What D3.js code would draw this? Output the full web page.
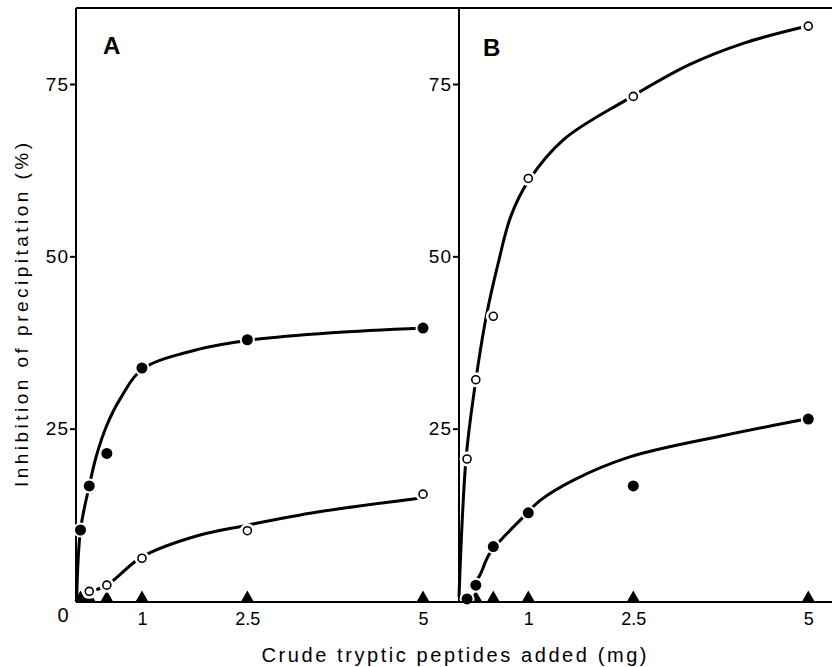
<!DOCTYPE html>
<html>
<head>
<meta charset="utf-8">
<script src="https://cdn.jsdelivr.net/npm/d3@7"></script>
<style>
  body { margin: 0; background: #fff; }
  text { font-family: "Liberation Sans", Arial, sans-serif; fill: #000; }
</style>
</head>
<body>
<div id="chart"></div>
<script>
// doses (mg) and measured inhibition (%)
var dosesA_filled = [0.125, 0.25, 0.5, 1, 2.5, 5];
var valsA_filled  = [10.3, 16.7, 21.4, 33.8, 37.9, 39.6];
var dosesA_open   = [0.25, 0.5, 1, 2.5, 5];
var valsA_open    = [1.4, 2.3, 6.2, 10.2, 15.5];
var dosesA_tri    = [0.125, 0.25, 0.5, 1, 2.5, 5];
var valsA_tri     = [0, 0, 0, 0, 0, 0];

var dosesB_open   = [0.125, 0.25, 0.5, 1, 2.5, 5];
var valsB_open    = [20.6, 32.1, 41.3, 61.3, 73.2, 83.4];
var dosesB_filled = [0.125, 0.25, 0.5, 1, 2.5, 5];
var valsB_filled  = [0.3, 2.3, 7.9, 12.8, 16.7, 26.4];
var dosesB_tri    = [0.25, 0.5, 1, 2.5, 5];
var valsB_tri     = [0, 0, 0, 0, 0];

// hand-drawn curves
var curveA_filled_x = [0.07, 0.125, 0.25, 0.35, 0.5, 0.7, 1, 1.8, 2.5, 3.7, 5];
var curveA_filled_y = [0, 10.3, 16.7, 21.0, 25.5, 29.5, 33.6, 36.5, 37.8, 38.9, 39.6];
var curveA_open_x = [0.22, 0.5, 1, 1.8, 2.5, 3.5, 4.95];
var curveA_open_y = [1.2, 2.3, 6.4, 9.5, 11.0, 12.9, 14.9];
var curveB_open_x = [0.01, 0.11, 0.23, 0.4, 0.57, 0.75, 1, 1.5, 2.4, 3.3, 4.07, 4.9];
var curveB_open_y = [0.6, 20.6, 30.6, 41.3, 49.0, 55.8, 60.9, 66.9, 72.7, 77.8, 80.9, 83.2];
var curveB_filled_x = [0.16, 0.3, 0.45, 0.93, 1.17, 1.64, 2.45, 3.74, 4.97];
var curveB_filled_y = [1.8, 3.6, 6.9, 12.2, 14.6, 17.5, 20.9, 23.9, 26.4];

var yTicks = [25, 50, 75];
var xTicks = [1, 2.5, 5];

var svgWidth = 832;
var svgHeight = 667;

var svg = d3.select("#chart")
  .append("svg")
  .attr("width", svgWidth)
  .attr("height", svgHeight);

var yScale = d3.scaleLinear().domain([0, 75]).range([601, 84]);
var xA = d3.scaleLinear().domain([0, 5]).range([71.7, 423]);
var xB = d3.scaleLinear().domain([0, 5]).range([458.3, 808.3]);

var leftX = 76, midX = 459, rightX = 832, topY = 8, bottomY = 602;

// frame
var frame = svg.append("g").attr("stroke", "#000").attr("stroke-width", 2).attr("fill", "none");
frame.append("line").attr("x1", leftX).attr("x2", rightX).attr("y1", topY).attr("y2", topY);
frame.append("line").attr("x1", leftX).attr("x2", leftX).attr("y1", topY).attr("y2", bottomY);
frame.append("line").attr("x1", midX).attr("x2", midX).attr("y1", topY).attr("y2", bottomY);

// y axes (both panels)
[leftX, midX].forEach(function(px) {
  var g = svg.append("g")
    .attr("transform", "translate(" + px + ",0)")
    .call(d3.axisLeft(yScale).tickValues(yTicks).tickSize(6).tickPadding(1));
  g.select(".domain").remove();
  g.selectAll(".tick line").attr("stroke-width", 2);
  g.selectAll("text").style("font-size", "19px").style("letter-spacing", "1px");
});

// x axes
[xA, xB].forEach(function(sc) {
  var g = svg.append("g")
    .attr("transform", "translate(0," + bottomY + ")")
    .call(d3.axisBottom(sc).tickValues(xTicks).tickSize(0).tickPadding(10)
      .tickFormat(function(d) { return d; }));
  g.select(".domain").remove();
  g.selectAll("text").style("font-size", "18px");
});

svg.append("text")
  .attr("x", 63).attr("y", 622)
  .attr("text-anchor", "middle")
  .style("font-size", "20px")
  .text("0");

// panel letters
svg.append("text").attr("x", 103).attr("y", 54)
  .style("font-size", "24px").style("font-weight", "bold").text("A");
svg.append("text").attr("x", 483).attr("y", 56)
  .style("font-size", "24px").style("font-weight", "bold").text("B");

// axis titles
svg.append("text")
  .attr("transform", "translate(28,315) rotate(-90)")
  .attr("text-anchor", "middle")
  .attr("textLength", 344)
  .attr("lengthAdjust", "spacing")
  .style("font-size", "19px")
  .text("Inhibition of precipitation (%)");

svg.append("text")
  .attr("x", 454).attr("y", 662)
  .attr("text-anchor", "middle")
  .attr("textLength", 385)
  .attr("lengthAdjust", "spacing")
  .style("font-size", "20px")
  .text("Crude tryptic peptides added (mg)");

// curves
function drawCurve(sc, xs, ys) {
  var pts = xs.map(function(d, i) { return [d, ys[i]]; });
  var line = d3.line()
    .x(function(d) { return sc(d[0]); })
    .y(function(d) { return yScale(d[1]); })
    .curve(d3.curveCatmullRom.alpha(0.5));
  svg.append("path")
    .datum(pts)
    .attr("d", line)
    .attr("fill", "none")
    .attr("stroke", "#000")
    .attr("stroke-width", 3);
}
drawCurve(xA, curveA_filled_x, curveA_filled_y);
drawCurve(xA, curveA_open_x, curveA_open_y);
drawCurve(xB, curveB_open_x, curveB_open_y);
drawCurve(xB, curveB_filled_x, curveB_filled_y);

// markers
function drawCircles(sc, xs, ys, filled) {
  var pts = xs.map(function(d, i) { return [d, ys[i]]; });
  var g = svg.append("g");
  g.selectAll("circle.halo")
    .data(pts).enter().append("circle")
    .attr("class", "halo")
    .attr("cx", function(d) { return sc(d[0]); })
    .attr("cy", function(d) { return yScale(d[1]); })
    .attr("r", filled ? 7.5 : 7.5)
    .attr("fill", "#fff");
  g.selectAll("circle.mark")
    .data(pts).enter().append("circle")
    .attr("class", "mark")
    .attr("cx", function(d) { return sc(d[0]); })
    .attr("cy", function(d) { return yScale(d[1]); })
    .attr("r", filled ? 5.5 : 4)
    .attr("fill", filled ? "#000" : "#fff")
    .attr("stroke", "#000")
    .attr("stroke-width", filled ? 0 : 1.6);
}
function drawTriangles(sc, xs, ys) {
  var pts = xs.map(function(d, i) { return [d, ys[i]]; });
  svg.append("g").selectAll("path")
    .data(pts).enter().append("path")
    .attr("d", function(d) {
      var cx = sc(d[0]), by = yScale(d[1]);
      return "M" + (cx - 6) + "," + by + "L" + cx + "," + (by - 10.5) + "L" + (cx + 6) + "," + by + "Z";
    })
    .attr("fill", "#000");
}

drawTriangles(xA, dosesA_tri, valsA_tri);
drawTriangles(xB, dosesB_tri, valsB_tri);
drawCircles(xA, dosesA_open, valsA_open, false);
drawCircles(xA, dosesA_filled, valsA_filled, true);
drawCircles(xB, dosesB_open, valsB_open, false);
drawCircles(xB, dosesB_filled, valsB_filled, true);

// bottom axis line on top of marker halos
svg.append("line").attr("x1", leftX).attr("x2", rightX).attr("y1", bottomY).attr("y2", bottomY)
  .attr("stroke", "#000").attr("stroke-width", 2);
</script>
</body>
</html>
